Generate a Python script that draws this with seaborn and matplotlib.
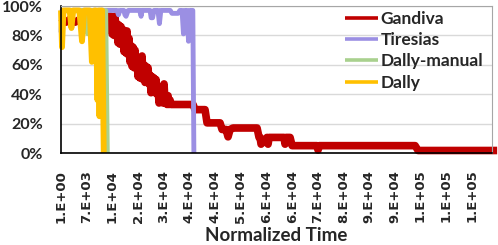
import matplotlib
matplotlib.use("Agg")
import matplotlib.pyplot as plt
import seaborn as sns
import pandas as pd

# ---- data (time, % of jobs) ----
gandiva_t = [1, 1400, 2500, 3900, 5300, 6400, 7000, 8100, 10900,
             12811, 13090, 13368, 13647, 13925, 14204, 14482, 14761, 15039, 15318,
             15596, 15875, 16153, 16432, 16710, 16989, 17267, 17546, 17824, 18103,
             18381, 18660, 18938, 19217, 19495, 19774, 20052, 20331, 20609, 20888,
             21166, 21445, 21723, 22002, 22280, 22559, 22837, 23116, 23394, 23673,
             23951, 24230, 24508, 24787, 25066, 25344, 25623, 25901, 26180, 26458,
             26737, 27015, 27294, 27572, 27851, 28129, 28408, 28686, 28965, 29243,
             29522, 29800, 30079, 30357, 30636, 30914,
             36760, 37320, 40100, 40660, 44280,
             44840, 45950, 46510, 47070, 47900, 54590, 55140, 55420, 55700, 57350,
             57650, 57950, 62080, 62380, 62680, 63780, 64340, 71270, 71570, 71870,
             98590, 99430, 121430]
gandiva_v = [92, 89, 91, 89, 91, 89, 91, 92, 93,
             93, 87, 93, 86, 93, 81, 92, 80, 93, 82,
             88, 75, 87, 74, 86, 76, 84, 69, 82, 68,
             83, 67, 78, 62, 73, 59, 72, 58, 70, 58,
             65, 52, 64, 51, 63, 66, 50, 60, 48, 59,
             48, 58, 47, 53, 41, 52, 42, 51, 41, 50,
             40, 45, 34, 44, 35, 45, 34, 47, 34, 38,
             33, 39, 33, 36, 33, 33,
             33, 29.5, 29.5, 20.5, 20.5,
             16, 16, 11, 16, 17, 17, 10.6, 10.6, 6, 10.6,
             6, 10.6, 10.6, 6, 10.6, 10.6, 5, 5, 2, 5,
             5, 1.7, 1.7]

tiresias_t = [1, 300, 15600, 16000, 16400, 17500, 17800, 18100, 18700, 21900, 22300,
              22600, 23700, 24800, 25100, 25500, 25900, 27000, 27400, 27800, 30400,
              30900, 32600, 33100, 33700, 34100, 34500, 35100, 35500, 35900, 36700,
              37000]
tiresias_v = [82, 97, 97, 94, 97, 97, 94, 93, 97, 97, 93,
              97, 97, 97, 92, 92, 97, 97, 88, 97, 97,
              95, 95, 97, 97, 81, 97, 97, 76, 97, 97,
              0]

dally_manual_t = [1, 6800, 7400, 8000, 12500, 12950]
dally_manual_v = [97, 97, 81, 97, 97, 0]

dally_t = [1, 280, 700, 2400, 2900, 3400, 5100, 5850, 6500, 8000, 8600, 9300,
           9700, 10150, 10450, 10700, 11000, 11450, 11900]
dally_v = [97, 72, 97, 97, 85, 97, 97, 76, 97, 97, 62, 97,
           97, 36, 97, 25, 97, 97, 0]

series_names = ["Gandiva", "Tiresias", "Dally-manual", "Dally"]
series_colors = ["#C00000", "#9B8FE3", "#A9D18E", "#FFC000"]
series_widths = [5.5, 3.5, 3.2, 4.2]

tick_values = [1 + k * 7150 for k in range(17)]
tick_labels = ["1.E+00", "7.E+03", "1.E+04", "2.E+04", "3.E+04", "4.E+04", "4.E+04",
               "5.E+04", "6.E+04", "6.E+04", "7.E+04", "8.E+04", "9.E+04", "9.E+04",
               "1.E+05", "1.E+05", "1.E+05"]
y_ticks = [0, 20, 40, 60, 80, 100]

# ---- figure ----
sns.set_style("white")
plt.rcParams["font.family"] = ["Lato", "DejaVu Sans"]

fig = plt.figure(figsize=(4.98, 2.45), dpi=100)
ax = fig.add_axes([61 / 498, 1 - 153 / 245, (492 - 61) / 498, (153 - 6) / 245])

data = [(gandiva_t, gandiva_v), (tiresias_t, tiresias_v),
        (dally_manual_t, dally_manual_v), (dally_t, dally_v)]
for (t, v), name, col, lw in zip(data, series_names, series_colors, series_widths):
    df = pd.DataFrame({"t": t, "v": v})
    sns.lineplot(data=df, x="t", y="v", ax=ax, color=col, linewidth=lw,
                 estimator=None, sort=False, label=name, clip_on=False,
                 solid_joinstyle="round", solid_capstyle="butt")

ax.set_xlim(0, 120000)
ax.set_ylim(0, 100)
ax.set_yticks(y_ticks)
ax.set_yticklabels([f"{v}%" for v in y_ticks], fontsize=11.5, fontweight="bold")
ax.set_xticks(tick_values)
ax.set_xticklabels(tick_labels, rotation=90, fontsize=9.5, fontweight="bold",
                   family="DejaVu Sans")
ax.tick_params(axis="both", length=0)
ax.tick_params(axis="y", pad=13)
ax.tick_params(axis="x", pad=12)
ax.set_xlabel("Normalized Time", fontsize=13.5, fontweight="bold", labelpad=3)
ax.set_ylabel("")

ax.grid(axis="y", color="#D9D9D9", linewidth=1)
ax.grid(axis="x", visible=False)
ax.set_axisbelow(True)
for side in ["left", "bottom"]:
    ax.spines[side].set_color("#000000")
    ax.spines[side].set_linewidth(1.2)
for side in ["top", "right"]:
    ax.spines[side].set_color("#A6A6A6")
    ax.spines[side].set_linewidth(0.8)

leg = ax.legend(loc="upper left", bbox_to_anchor=(345 / 498, 1 - 11 / 245),
                bbox_transform=fig.transFigure, frameon=False,
                prop={"weight": "bold", "size": 12.5}, handlelength=1.9,
                handletextpad=0.15, labelspacing=0.3, borderpad=0, borderaxespad=0)
for line in leg.get_lines():
    line.set_linewidth(2.6)

fig.savefig("out.png", dpi=100)
